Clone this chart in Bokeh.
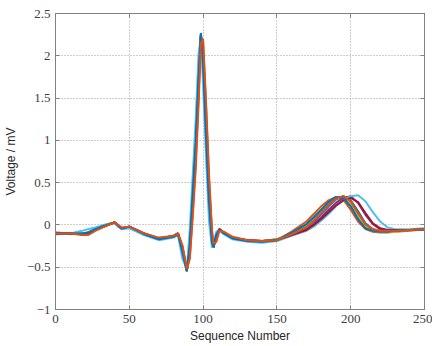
from bokeh.plotting import figure
from bokeh.models import Range1d, FixedTicker, LinearAxis
from bokeh.embed import file_html
from bokeh.resources import INLINE

# Sample positions shared by all beats
X = [0, 10, 18, 22, 27, 33, 40, 43, 45, 50, 60, 70, 80, 83, 86, 89, 91, 93, 95, 97,
     98.5, 100, 102, 104, 106, 107, 109, 111, 114, 120, 130, 140, 150,
     160, 170, 175, 180, 185, 190, 195, 200, 205, 210, 215, 220, 225, 230, 240, 250]

# Beat values (mV)
beat1 = [-0.10, -0.10, -0.10, -0.10, -0.05, -0.01, 0.03, -0.02, -0.04, -0.02, -0.10, -0.16, -0.13, -0.10, -0.30, -0.54, -0.25, 0.35, 0.95, 1.75,
         2.27, 1.95, 1.10, 0.30, -0.20, -0.27, -0.12, -0.05, -0.10, -0.15, -0.19, -0.20, -0.18,
         -0.11, -0.03, 0.04, 0.13, 0.22, 0.30, 0.34, 0.29, 0.16, 0.02, -0.05, -0.07, -0.07, -0.07, -0.06, -0.05]
beat2 = [-0.11, -0.10, -0.11, -0.10, -0.06, -0.02, 0.03, -0.01, -0.04, -0.02, -0.11, -0.16, -0.14, -0.10, -0.25, -0.53, -0.38, 0.15, 0.75, 1.55,
         2.20, 2.15, 1.40, 0.55, -0.08, -0.24, -0.18, -0.06, -0.09, -0.15, -0.18, -0.19, -0.18,
         -0.08, 0.04, 0.13, 0.22, 0.29, 0.33, 0.30, 0.18, 0.04, -0.05, -0.08, -0.09, -0.09, -0.08, -0.07, -0.05]
beat3 = [-0.10, -0.11, -0.10, -0.09, -0.05, -0.01, 0.02, -0.02, -0.04, -0.03, -0.11, -0.17, -0.14, -0.11, -0.31, -0.55, -0.26, 0.33, 0.93, 1.72,
         2.24, 1.97, 1.12, 0.32, -0.19, -0.26, -0.12, -0.05, -0.10, -0.16, -0.19, -0.20, -0.18,
         -0.10, 0.00, 0.08, 0.17, 0.26, 0.32, 0.33, 0.24, 0.09, -0.03, -0.07, -0.08, -0.08, -0.08, -0.06, -0.05]
beat4 = [-0.09, -0.10, -0.11, -0.10, -0.05, -0.01, 0.03, -0.02, -0.05, -0.02, -0.10, -0.16, -0.13, -0.10, -0.29, -0.53, -0.24, 0.36, 0.96, 1.76,
         2.26, 1.94, 1.08, 0.29, -0.21, -0.27, -0.11, -0.05, -0.09, -0.15, -0.18, -0.19, -0.17,
         -0.12, -0.05, 0.01, 0.09, 0.18, 0.26, 0.32, 0.34, 0.26, 0.12, 0.01, -0.05, -0.06, -0.07, -0.06, -0.05]
beat5 = [-0.10, -0.10, -0.10, -0.09, -0.04, 0.00, 0.03, -0.02, -0.04, -0.02, -0.11, -0.16, -0.14, -0.11, -0.30, -0.54, -0.27, 0.33, 0.92, 1.73,
         2.25, 1.96, 1.12, 0.31, -0.19, -0.27, -0.13, -0.06, -0.10, -0.15, -0.19, -0.19, -0.17,
         -0.10, -0.02, 0.06, 0.15, 0.24, 0.31, 0.34, 0.27, 0.13, 0.00, -0.06, -0.07, -0.07, -0.07, -0.06, -0.05]
beat6 = [-0.11, -0.10, -0.07, -0.05, -0.03, 0.00, 0.02, -0.03, -0.05, -0.04, -0.12, -0.18, -0.15, -0.12, -0.40, -0.52, -0.05, 0.60, 1.25, 2.05,
         2.20, 1.65, 0.80, 0.05, -0.27, -0.22, -0.08, -0.06, -0.11, -0.17, -0.20, -0.21, -0.19,
         -0.13, -0.07, -0.02, 0.05, 0.13, 0.22, 0.29, 0.34, 0.35, 0.28, 0.15, 0.04, -0.03, -0.05, -0.05, -0.04]
beat7 = [-0.10, -0.10, -0.11, -0.11, -0.06, -0.02, 0.03, -0.01, -0.04, -0.02, -0.10, -0.16, -0.13, -0.10, -0.28, -0.54, -0.28, 0.30, 0.90, 1.70,
         2.24, 2.00, 1.18, 0.36, -0.16, -0.26, -0.14, -0.05, -0.09, -0.15, -0.18, -0.19, -0.18,
         -0.12, -0.06, 0.00, 0.07, 0.15, 0.23, 0.29, 0.32, 0.27, 0.14, 0.02, -0.04, -0.06, -0.06, -0.06, -0.05]
beat8 = [-0.10, -0.10, -0.10, -0.09, -0.05, -0.01, 0.03, -0.02, -0.04, -0.02, -0.11, -0.17, -0.14, -0.11, -0.32, -0.55, -0.23, 0.38, 0.98, 1.78,
         2.25, 1.92, 1.05, 0.27, -0.21, -0.26, -0.11, -0.06, -0.10, -0.16, -0.19, -0.20, -0.18,
         -0.09, 0.01, 0.09, 0.18, 0.27, 0.33, 0.32, 0.22, 0.07, -0.04, -0.07, -0.08, -0.08, -0.07, -0.06, -0.05]
beat9 = [-0.10, -0.10, -0.12, -0.12, -0.07, -0.02, 0.03, -0.01, -0.03, -0.02, -0.10, -0.15, -0.13, -0.10, -0.24, -0.52, -0.40, 0.10, 0.65, 1.45,
         2.15, 2.20, 1.45, 0.60, -0.05, -0.22, -0.20, -0.07, -0.08, -0.14, -0.18, -0.19, -0.18,
         -0.11, -0.03, 0.05, 0.14, 0.23, 0.31, 0.34, 0.28, 0.14, 0.01, -0.05, -0.07, -0.07, -0.07, -0.06, -0.05]

beats = [beat1, beat2, beat3, beat4, beat5, beat6, beat7, beat8, beat9]
colors = ["#0072BD", "#D95319", "#EDB120", "#7E2F8E", "#77AC30", "#4DBEEE", "#A2142F", "#0072BD", "#D95319"]

x_ticks = [0, 50, 100, 150, 200, 250]
y_ticks = [-1, -0.5, 0, 0.5, 1, 1.5, 2, 2.5]
y_tick_labels = {-1: "\u22121", -0.5: "\u22120.5", 0: "0", 0.5: "0.5", 1: "1", 1.5: "1.5", 2: "2", 2.5: "2.5"}

p = figure(width=432, height=346, output_backend="svg", toolbar_location=None,
           x_range=Range1d(0, 250), y_range=Range1d(-1, 2.5),
           min_border_left=53, min_border_right=8, min_border_top=13, min_border_bottom=37)

for b, c in zip(beats, colors):
    p.line(X, b, line_color=c, line_width=2)

p.outline_line_color = "#808080"
p.outline_line_width = 1
p.background_fill_color = "white"
p.border_fill_color = "white"

for g in (p.xgrid, p.ygrid):
    g.grid_line_color = "#9a9a9a"
    g.grid_line_dash = "1 2"
    g.grid_line_width = 1
p.xgrid.ticker = FixedTicker(ticks=x_ticks)
p.ygrid.ticker = FixedTicker(ticks=y_ticks)

for ax in (p.xaxis[0], p.yaxis[0]):
    ax.axis_line_color = "#808080"
    ax.major_tick_line_color = "#808080"
    ax.major_tick_in = 4
    ax.major_tick_out = 0
    ax.minor_tick_line_color = None
    ax.major_label_text_font = "Liberation Serif"
    ax.major_label_text_font_size = "13px"
    ax.major_label_text_color = "#404040"
    ax.major_label_standoff = 5
    ax.axis_label_text_font = "Liberation Sans"
    ax.axis_label_text_font_size = "12px"
    ax.axis_label_text_font_style = "normal"
    ax.axis_label_text_color = "#262626"

xa = p.xaxis[0]
xa.ticker = FixedTicker(ticks=x_ticks)
xa.axis_label = "Sequence Number"
xa.axis_label_standoff = 3

ya = p.yaxis[0]
ya.ticker = FixedTicker(ticks=y_ticks)
ya.major_label_overrides = y_tick_labels
ya.axis_label = "Voltage / mV"
ya.axis_label_standoff = 6

# Box axes (top and right) carrying inward ticks only
for loc, ticks in (("above", x_ticks), ("right", y_ticks)):
    ax = LinearAxis(ticker=FixedTicker(ticks=ticks))
    ax.axis_line_color = "#808080"
    ax.major_tick_line_color = "#808080"
    ax.major_tick_in = 4
    ax.major_tick_out = 0
    ax.minor_tick_line_color = None
    ax.major_label_text_color = None
    ax.major_label_text_font_size = "1px"
    ax.major_label_standoff = 0
    p.add_layout(ax, loc)

open("out.html", "w").write(file_html(p, INLINE))
